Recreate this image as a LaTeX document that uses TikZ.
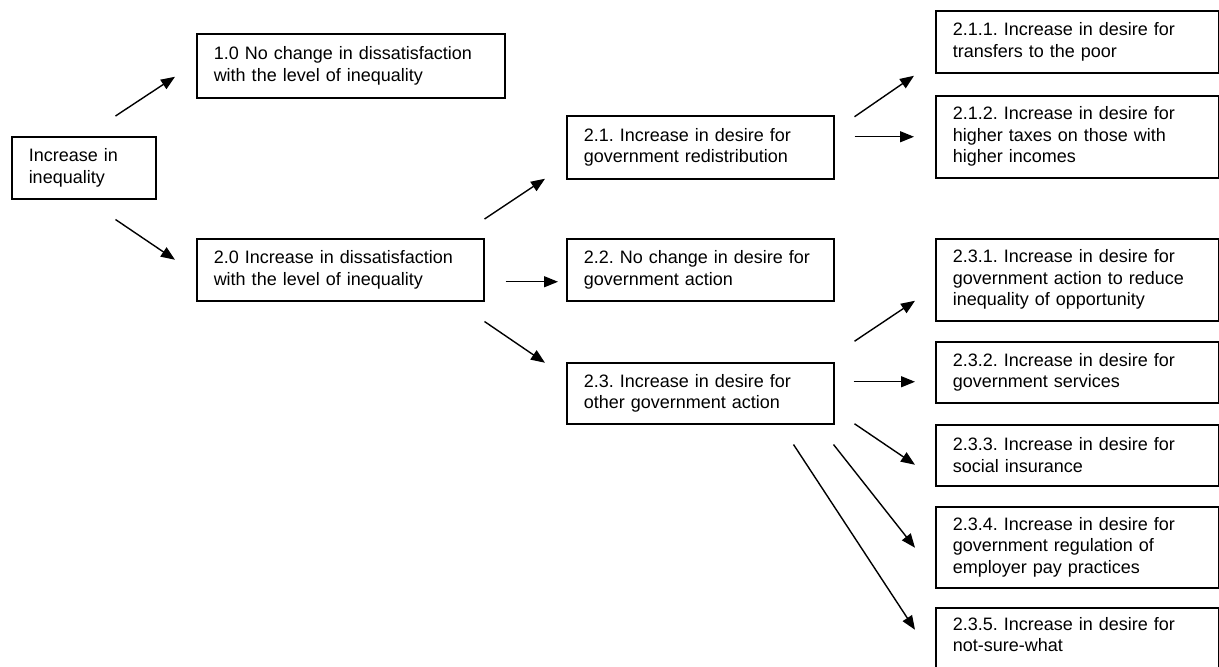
\documentclass[tikz,border=0pt]{standalone}
\usepackage{fontspec}
\setmainfont{Liberation Sans}
\usetikzlibrary{arrows.meta}
\frenchspacing

\begin{document}
\begin{tikzpicture}[x=1pt,y=-1pt,
    box/.style={draw, line width=1.5pt, anchor=north west, align=left,
      inner xsep=17pt, inner ysep=0pt, font=\fontsize{18}{21.5}\selectfont},
    arr/.style={-{Triangle[length=14pt,width=11pt]}, line width=1.4pt}]

    % Page frame
    \useasboundingbox (0,0) rectangle (1219,667);
    \fill[white] (0,0) rectangle (1219,667);
    \clip (0,0) rectangle (1219,667);

    % First level
    \node[box, text width=110pt, minimum height=62pt] (root) at (11,136) {Increase in\\inequality};
    \node[box, text width=274pt, minimum height=64pt] (n10) at (196,33) {1.0 No change in dissatisfaction\\with the level of inequality};
    \node[box, text width=253pt, minimum height=62pt] (n20) at (196,238) {2.0 Increase in dissatisfaction\\with the level of inequality};

    % Second level
    \node[box, text width=233pt, minimum height=63pt] (n21) at (566,115) {2.1. Increase in desire for\\government redistribution};
    \node[box, text width=233pt, minimum height=62pt] (n22) at (566,238) {2.2. No change in desire for\\government action};
    \node[box, text width=233pt, minimum height=61pt] (n23) at (566,362) {2.3. Increase in desire for\\other government action};

    % Third level (cut off at the right edge)
    \node[box, text width=249pt, minimum height=62pt] (n211) at (935,10) {2.1.1. Increase in desire for\\transfers to the poor};
    \node[box, text width=249pt, minimum height=82pt] (n212) at (935,95) {2.1.2. Increase in desire for\\higher taxes on those with\\higher incomes};
    \node[box, text width=249pt, minimum height=82pt] (n231) at (935,238) {2.3.1. Increase in desire for\\government action to reduce\\inequality of opportunity};
    \node[box, text width=249pt, minimum height=61pt] (n232) at (935,341) {2.3.2. Increase in desire for\\government services};
    \node[box, text width=249pt, minimum height=61pt] (n233) at (935,424) {2.3.3. Increase in desire for\\social insurance};
    \node[box, text width=249pt, minimum height=81pt] (n234) at (935,506) {2.3.4. Increase in desire for\\government regulation of\\employer pay practices};
    \node[box, text width=249pt, minimum height=81pt] (n235) at (935,607) {2.3.5. Increase in desire for\\not-sure-what\\\strut};

    % Arrows from the root
    \draw[arr] ([shift={(-41,-20)}]root.north east) -- ([shift={(-21,11)}]n10.west);
    \draw[arr] ([shift={(-41,20)}]root.south east) -- ([shift={(-21,-10)}]n20.west);

    % Arrows from 2.0
    \draw[arr] ([shift={(0,-19)}]n20.north east) -- ([shift={(-21,31.5)}]n21.west);
    \draw[arr] ([shift={(21,12)}]n20.east) -- ([shift={(-8,12)}]n22.west);
    \draw[arr] ([shift={(0,20)}]n20.south east) -- ([shift={(-21,-30.5)}]n23.west);

    % Arrows from 2.1
    \draw[arr] ([shift={(20,-30.5)}]n21.east) -- ([shift={(-21,34)}]n211.west);
    \draw[arr] ([shift={(20,-10.5)}]n21.east) -- ([shift={(-21,0)}]n212.west);

    % Arrows from 2.3
    \draw[arr] ([shift={(20,-52)}]n23.east) -- ([shift={(-20,21)}]n231.west);
    \draw[arr] ([shift={(19,-11.5)}]n23.east) -- ([shift={(-20,9.5)}]n232.west);
    \draw[arr] ([shift={(20,30.5)}]n23.east) -- ([shift={(-20,9.5)}]n233.west);
    \draw[arr] ([shift={(-1,20)}]n23.south east) -- ([shift={(-20,0.5)}]n234.west);
    \draw[arr] ([shift={(-41,20)}]n23.south east) -- ([shift={(-20,-18.5)}]n235.west);

\end{tikzpicture}
\end{document}
